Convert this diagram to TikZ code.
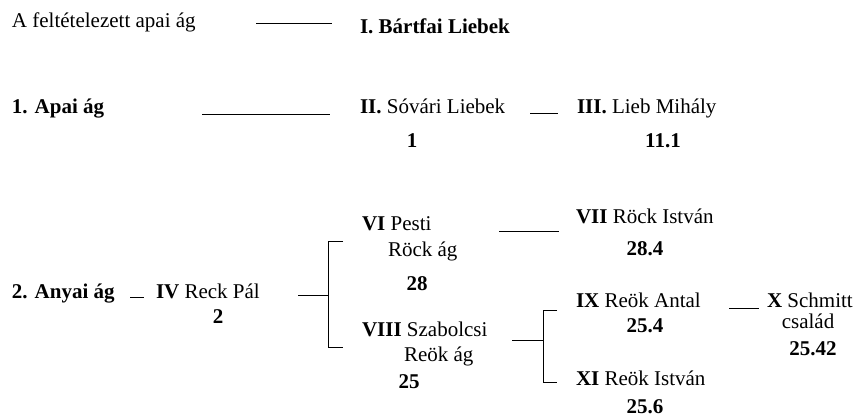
\documentclass[tikz,border=0pt]{standalone}
\usepackage{fontspec}
\setmainfont{Liberation Serif}
\begin{document}
\begin{tikzpicture}[x=1pt,y=-1pt,
  every node/.style={inner sep=0pt,outer sep=0pt,font=\fontsize{21}{25}\selectfont},
  lbl/.style={anchor=base west},
  num/.style={anchor=base,font=\fontsize{21}{25}\selectfont\bfseries},
  conn/.style={line width=0.9pt,line cap=butt}]
\useasboundingbox (0,0) rectangle (868,416);
% row 0
\node[lbl] (tA) at (12,27) {A feltételezett apai ág};
\node[lbl] (tI) at (360,33) {\textbf{I. Bártfai Liebek}};
\coordinate (a1) at (256,23); \coordinate (a2) at (332,23);
\draw[conn] (a1) -- (a2);
% row 1
\node[lbl] (t1) at (12,113) {\textbf{1. Apai ág}};
\node[lbl] (tII) at (360,113) {\textbf{II.} Sóvári Liebek};
\node[num] (n1) at (412,147) {1};
\node[lbl] (tIII) at (577,113) {\textbf{III.} Lieb Mihály};
\node[num] (n111) at (663,147) {11.1};
\coordinate (b1) at (202,114); \coordinate (b2) at (330,114);
\draw[conn] (b1) -- (b2);
\coordinate (c1) at (530,113); \coordinate (c2) at (558,113);
\draw[conn] (c1) -- (c2);
% row 2
\node[lbl] (t2) at (12,298) {\textbf{2. Anyai ág}};
\node[lbl] (tIV) at (156,298) {\textbf{IV} Reck Pál};
\node[num] (n2) at (218,323) {2};
\coordinate (d1) at (130,297); \coordinate (d2) at (144,297);
\draw[conn] (d1) -- (d2);
\coordinate (e1) at (298,295); \coordinate (e2) at (328,295);
\coordinate (e3) at (328,241); \coordinate (e4) at (343,241);
\coordinate (e5) at (328,347); \coordinate (e6) at (343,347);
\draw[conn] (e1) -- (e2);
\draw[conn] (e4) -- (e3) -- (e5) -- (e6);
\node[lbl] (tVI) at (362,230) {\textbf{VI} Pesti};
\node[lbl] (tVIb) at (388,256) {Röck ág};
\node[num] (n28) at (417,290) {28};
\coordinate (f1) at (499,231); \coordinate (f2) at (559,231);
\draw[conn] (f1) -- (f2);
\node[lbl] (tVII) at (576,223) {\textbf{VII} Röck István};
\node[num] (n284) at (645,255) {28.4};
\node[lbl] (tVIII) at (362,336) {\textbf{VIII} Szabolcsi};
\node[lbl] (tVIIIb) at (404,361) {Reök ág};
\node[num] (n25) at (409,388) {25};
\coordinate (g1) at (512,340); \coordinate (g2) at (543,340);
\coordinate (g3) at (543,310); \coordinate (g4) at (557,310);
\coordinate (g5) at (543,382); \coordinate (g6) at (557,382);
\draw[conn] (g1) -- (g2);
\draw[conn] (g4) -- (g3) -- (g5) -- (g6);
\node[lbl] (tIX) at (576,307) {\textbf{IX} Reök Antal};
\node[num] (n254) at (645,332) {25.4};
\coordinate (h1) at (729,308); \coordinate (h2) at (759,308);
\draw[conn] (h1) -- (h2);
\node[lbl] (tX) at (767,307) {\textbf{X} Schmitt};
\node[anchor=base] (tXb) at (808,328) {család};
\node[num] (n2542) at (813,355) {25.42};
\node[lbl] (tXI) at (576,385) {\textbf{XI} Reök István};
\node[num] (n256) at (645,413) {25.6};
\end{tikzpicture}
\end{document}
